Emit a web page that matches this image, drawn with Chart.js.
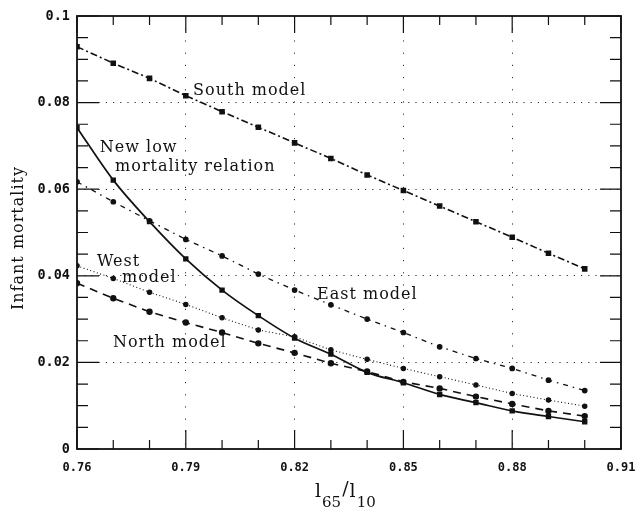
<!DOCTYPE html>
<html><head><meta charset="utf-8">
<script src="https://cdn.jsdelivr.net/npm/chart.js@4/dist/chart.umd.min.js"></script>
<style>html,body{margin:0;padding:0;background:#fff}</style>
</head><body>
<canvas id="c" width="637" height="510"></canvas>
<script>
// ---- data ----
const xValues    = [0.76,0.77,0.78,0.79,0.80,0.81,0.82,0.83,0.84,0.85,0.86,0.87,0.88,0.89,0.90];
const southModel = [0.0929,0.0891,0.0856,0.0816,0.0779,0.0743,0.0707,0.0671,0.0633,0.0597,0.0561,0.0525,0.0489,0.0452,0.0416];
const newLowRel  = [0.0742,0.0621,0.0525,0.0439,0.0367,0.0308,0.0256,0.0219,0.0177,0.0153,0.0126,0.0107,0.0088,0.0075,0.0063];
const eastModel  = [0.0617,0.0571,0.0527,0.0484,0.0446,0.0404,0.0367,0.0333,0.0300,0.0269,0.0236,0.0209,0.0186,0.0159,0.0135];
const westModel  = [0.0423,0.0394,0.0362,0.0334,0.0303,0.0275,0.0259,0.0229,0.0207,0.0186,0.0167,0.0148,0.0128,0.0113,0.0099];
const northModel = [0.0383,0.0348,0.0317,0.0292,0.0269,0.0244,0.0222,0.0198,0.0179,0.0155,0.0140,0.0121,0.0104,0.0088,0.0076];
const xTickLabels = [0.76,0.79,0.82,0.85,0.88,0.91];
const yTickLabels = [0,0.02,0.04,0.06,0.08,0.1];
const curveLabels = [
  {text:'South model', x:0.792, y:0.0827},
  {text:'New low', x:0.7663, y:0.0695},
  {text:'mortality relation', x:0.7705, y:0.0651},
  {text:'West', x:0.7655, y:0.0432},
  {text:'model', x:0.7724, y:0.0395},
  {text:'East model', x:0.8262, y:0.0356},
  {text:'North model', x:0.7699, y:0.0245}
];

const pts = arr => xValues.map((x,i)=>({x, y:arr[i]}));
const INK = '#111';
const SERIF = '"DejaVu Serif"';

const framePlugin = {
  id:'frameTicks',
  afterDraw(chart){
    const {ctx, chartArea:a, scales:{x,y}} = chart;
    ctx.save();
    ctx.strokeStyle = INK;
    ctx.lineWidth = 1.2;
    for(let i=0;i<=15;i++){
      const px = x.getPixelForValue(0.76 + i*0.01);
      const major = i%3===0;
      ctx.beginPath();
      ctx.moveTo(px, a.bottom); ctx.lineTo(px, a.bottom-(major?19:9));
      ctx.moveTo(px, a.top); ctx.lineTo(px, a.top+(major?17:9));
      ctx.stroke();
    }
    for(let i=0;i<=20;i++){
      const py = y.getPixelForValue(i*0.005);
      const major = i%4===0;
      ctx.beginPath();
      ctx.moveTo(a.left, py); ctx.lineTo(a.left+(major?22:11), py);
      ctx.moveTo(a.right, py); ctx.lineTo(a.right-(major?21:11), py);
      ctx.stroke();
    }
    ctx.lineWidth = 1.8;
    ctx.strokeRect(a.left, a.top, a.right-a.left, a.bottom-a.top);

    ctx.fillStyle = INK;
    ctx.font = '16px ' + SERIF;
    ctx.letterSpacing = '1px';
    ctx.textBaseline = 'middle';
    ctx.textAlign = 'left';
    curveLabels.forEach(l=>{
      ctx.fillText(l.text, x.getPixelForValue(l.x), y.getPixelForValue(l.y));
    });

    ctx.save();
    ctx.translate(19, 238);
    ctx.rotate(-Math.PI/2);
    ctx.textAlign='center';
    ctx.font = '16px ' + SERIF;
    ctx.fillText('Infant mortality', 0, 0);
    ctx.restore();

    ctx.letterSpacing = '0px';
    ctx.textBaseline = 'alphabetic';
    ctx.textAlign = 'left';
    let cx = 315; const base = 497;
    const big = '19px ' + SERIF, small = '15px ' + SERIF;
    const parts = [['l',big,0],['65',small,10],['/',big,-2],['l',big,0],['10',small,10]];
    parts.forEach(([t,f,dy])=>{
      ctx.font = f;
      ctx.fillText(t, cx, base+dy);
      cx += ctx.measureText(t).width + 1;
    });
    ctx.restore();
  }
};

const gridColor = c => (c.tick && (c.index===0 || c.index===c.scale.ticks.length-1)) ? 'rgba(0,0,0,0)' : '#333';
const noPad = s => { s.paddingLeft = 0; s.paddingRight = 0; s.paddingTop = 0; s.paddingBottom = 0; };

new Chart(document.getElementById('c'), {
  type:'line',
  data:{
    datasets:[
      {label:'South model', data:pts(southModel), borderColor:INK, backgroundColor:INK, borderWidth:1.6,
       borderDash:[7,3,2,3], pointStyle:'rect', pointRadius:2.8, tension:0},
      {label:'New low mortality relation', data:pts(newLowRel), borderColor:INK, backgroundColor:INK, borderWidth:1.7,
       pointStyle:'rect', pointRadius:2.6, cubicInterpolationMode:'monotone'},
      {label:'East model', data:pts(eastModel), borderColor:INK, backgroundColor:INK, borderWidth:1.3,
       borderDash:[5,5,1.5,5], pointStyle:'circle', pointRadius:2.2, tension:0},
      {label:'West model', data:pts(westModel), borderColor:INK, backgroundColor:INK, borderWidth:1.1,
       borderDash:[1,2.5], pointStyle:'circle', pointRadius:2.2, tension:0},
      {label:'North model', data:pts(northModel), borderColor:INK, backgroundColor:INK, borderWidth:1.6,
       borderDash:[8,6], pointStyle:'circle', pointRadius:2.4, tension:0}
    ]
  },
  options:{
    responsive:false, animation:false, devicePixelRatio:1,
    layout:{padding:{top:16,right:16,left:0,bottom:0}},
    plugins:{legend:{display:false}, tooltip:{enabled:false}},
    scales:{
      x:{type:'linear', min:0.76, max:0.91,
         afterFit:s=>{s.height=61; noPad(s);},
         afterBuildTicks:s=>{s.ticks = xTickLabels.map(v=>({value:v}));},
         ticks:{padding:12, color:INK, font:{family:'"DejaVu Sans Mono"', weight:'bold', size:12},
                callback:v=>v.toFixed(2), maxRotation:0, autoSkip:false},
         grid:{color:gridColor, lineWidth:1, drawTicks:false},
         border:{display:false, dash:[1.2,11]}},
      y:{type:'linear', min:0, max:0.1,
         afterFit:s=>{s.width=77; noPad(s);},
         afterBuildTicks:s=>{s.ticks = yTickLabels.map(v=>({value:v}));},
         ticks:{padding:7, color:INK, font:{family:'"DejaVu Sans Mono"', weight:'bold', size:13.5},
                callback:v=> v===0 ? '0' : (Math.abs(v-0.1)<1e-9 ? '0.1' : v.toFixed(2)), autoSkip:false},
         grid:{color:gridColor, lineWidth:1, drawTicks:false},
         border:{display:false, dash:[1.2,6]}}
    }
  },
  plugins:[framePlugin]
});
</script>
</body></html>
